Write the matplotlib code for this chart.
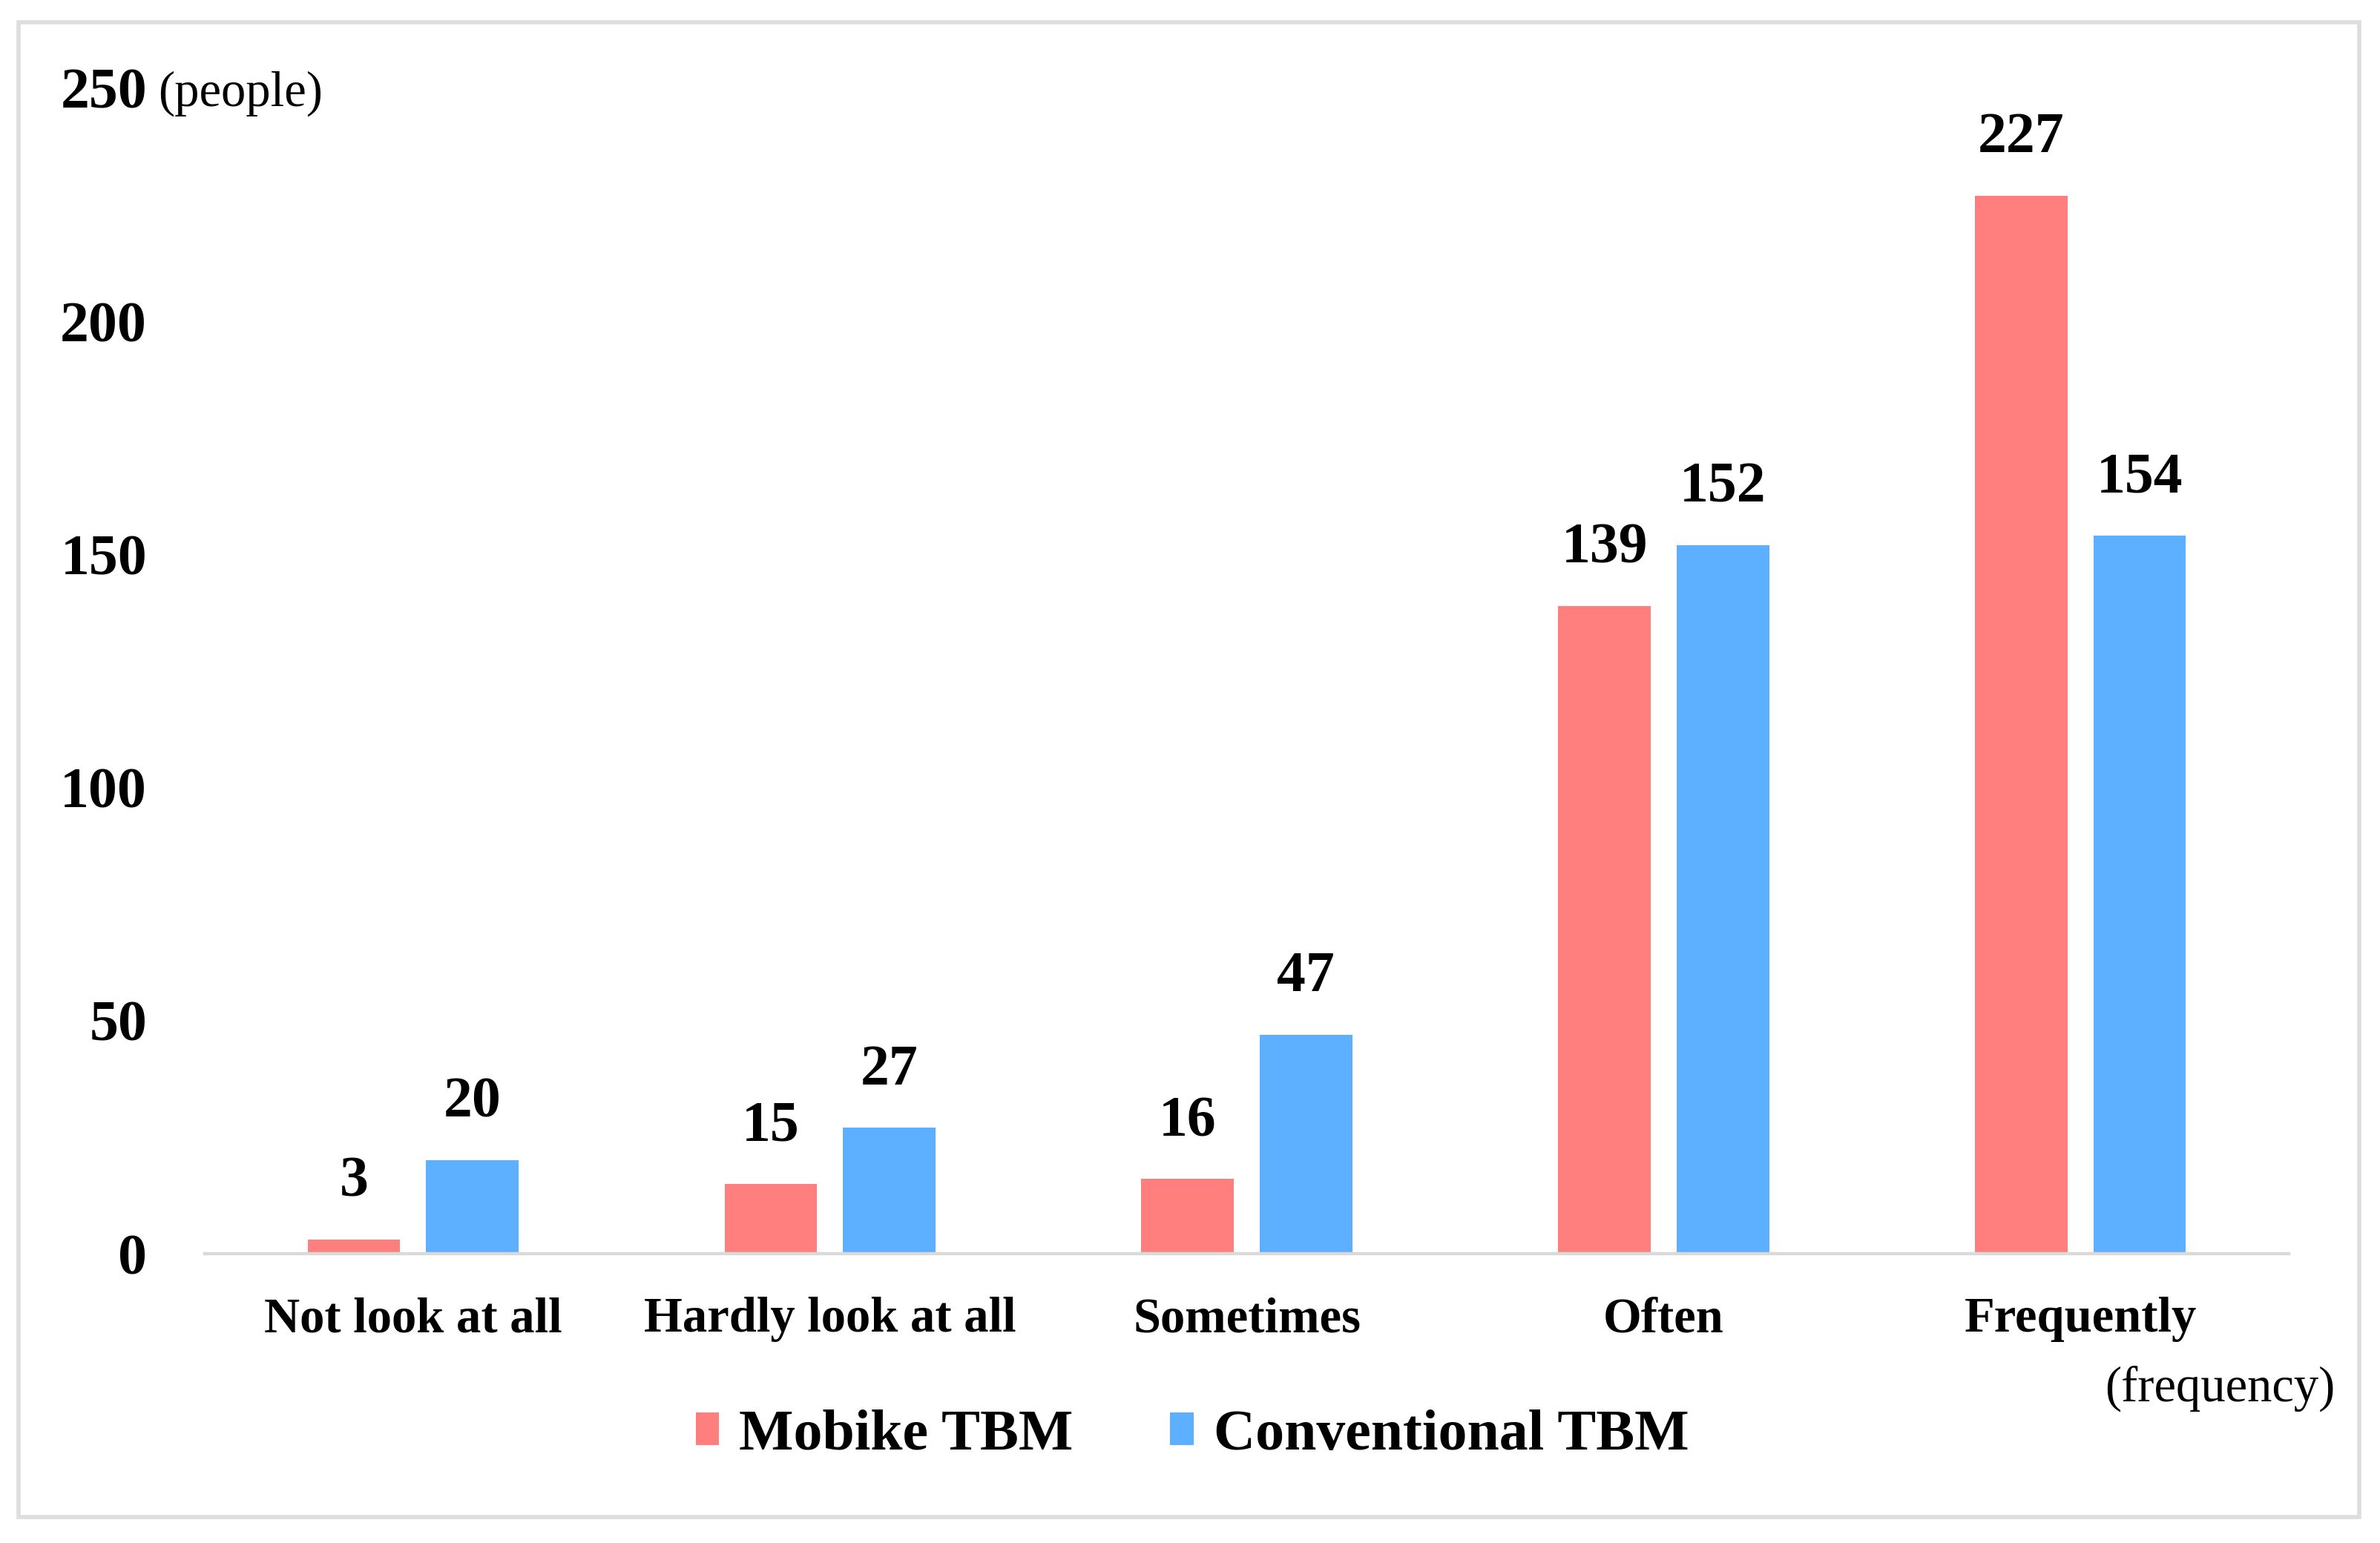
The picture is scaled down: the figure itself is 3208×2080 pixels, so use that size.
import matplotlib.pyplot as plt
import numpy as np
from matplotlib.patches import Rectangle

# --- Data ---
categories = ["Not look at all", "Hardly look at all", "Sometimes", "Often", "Frequently"]
mobike = [3, 15, 16, 139, 227]
conventional = [20, 27, 47, 152, 154]
series_names = ["Mobike TBM", "Conventional TBM"]
COLORS = ["#FF7F7F", "#5CB0FF"]
yticks = [0, 50, 100, 150, 200, 250]

plt.rcParams['font.family'] = ['Liberation Serif', 'DejaVu Serif']

fig = plt.figure(figsize=(16.04, 10.4), dpi=200)
ax = fig.add_axes([0.086, 0.1875, 0.8757, 0.7553])

x = np.arange(len(categories))
w = 0.222
off = 0.142
bars1 = ax.bar(x - off, mobike, w, color=COLORS[0], label=series_names[0])
bars2 = ax.bar(x + off, conventional, w, color=COLORS[1], label=series_names[1])

# value labels above bars
for bars, vals in [(bars1, mobike), (bars2, conventional)]:
    for b, v in zip(bars, vals):
        ax.annotate(str(v), (b.get_x() + b.get_width() / 2, v),
                    xytext=(0, 21), textcoords='offset points',
                    ha='center', va='baseline', fontsize=28, fontweight='bold')

ax.set_xlim(-0.5, 4.5)
ax.set_ylim(0, 250)
ax.set_yticks(yticks)
ax.set_yticklabels([str(t) for t in yticks], fontsize=28, fontweight='bold')
ax.set_xticks(x)
ax.set_xticklabels(categories, fontsize=24, fontweight='bold')
ax.tick_params(axis='y', length=0, pad=28)
ax.tick_params(axis='x', length=0, pad=21)

for s in ['top', 'right', 'left']:
    ax.spines[s].set_visible(False)
ax.spines['bottom'].set_color('#D9D9D9')
ax.spines['bottom'].set_linewidth(1.6)

# unit labels
ax.annotate("(people)", (0, 250), xycoords=('axes fraction', 'data'),
            xytext=(-22.5, 0), textcoords='offset points',
            ha='left', va='center_baseline', fontsize=24)
fig.text(3147 / 3208, 1 - 1872 / 2080, "(frequency)", ha='right', va='center', fontsize=24)

leg = fig.legend(loc='center', bbox_to_anchor=(0.501, 0.0697), ncol=2, frameon=False,
                 prop={'size': 28, 'weight': 'bold'}, handlelength=0.4, handleheight=0.5,
                 handletextpad=0.35, columnspacing=1.68)

# outer frame
fig.patches.append(Rectangle((25 / 3208, 1 - 2045 / 2080), (3180 - 25) / 3208, (2045 - 30) / 2080,
                             transform=fig.transFigure, fill=False, edgecolor='#DDDDDD',
                             linewidth=2.0))

fig.savefig("out.png", dpi=200)
